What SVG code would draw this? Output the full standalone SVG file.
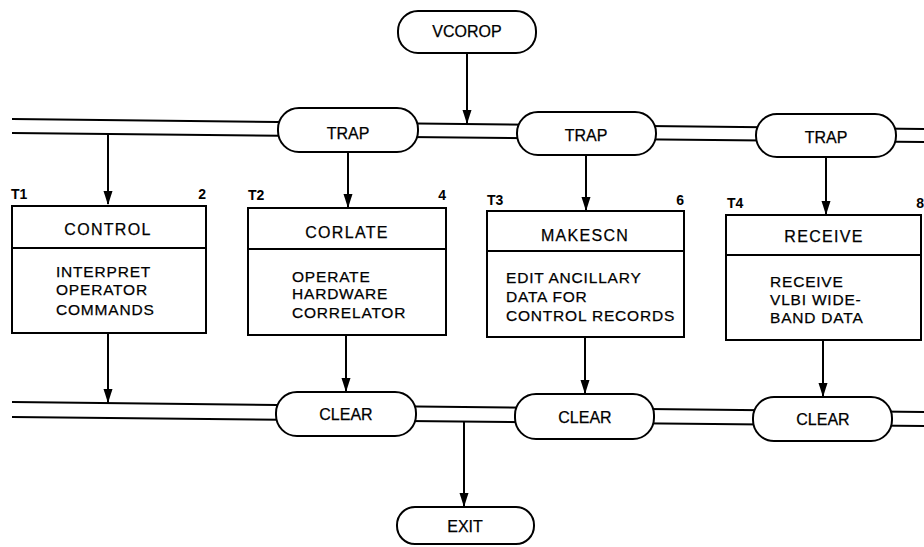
<svg xmlns="http://www.w3.org/2000/svg" width="924" height="547" viewBox="0 0 924 547">
<style>
.s{fill:none;stroke:#000;stroke-width:2}
.p{fill:#fff;stroke:#000;stroke-width:2}
.b{fill:#fff;stroke:#000;stroke-width:2}
.v{stroke:#000;stroke-width:2}
text{font-family:"Liberation Sans",Arial,sans-serif;fill:#000;stroke:#000;stroke-width:0.25}
.t{font-size:16px;text-anchor:middle}
.h{font-size:16px;text-anchor:middle;letter-spacing:1.3px}
.d{font-size:15.5px;letter-spacing:0.8px}
.n{font-size:14px;font-weight:bold;stroke-width:0}
.r{text-anchor:end}
</style>
<defs>
<path id="ah" d="M0,0 l-4.5,-14 h9 z" fill="#000"/>
</defs>
<g id="connectors">
<line class="s" x1="12" y1="119" x2="924" y2="129"/>
<line class="s" x1="12" y1="133" x2="924" y2="142"/>
<line class="s" x1="12" y1="402" x2="924" y2="412"/>
<line class="s" x1="12" y1="417" x2="924" y2="426"/>
<path class="v" d="M467,53 V124"/>
<use href="#ah" x="467" y="124"/>
<path class="v" d="M108,134 V204"/>
<use href="#ah" x="108" y="205"/>
<path class="v" d="M348,152 V208"/>
<use href="#ah" x="348" y="208"/>
<path class="v" d="M586,155 V211"/>
<use href="#ah" x="586" y="211"/>
<path class="v" d="M826,157 V215"/>
<use href="#ah" x="826" y="215"/>
<path class="v" d="M108,333 V403"/>
<use href="#ah" x="108" y="403"/>
<path class="v" d="M346,335 V392"/>
<use href="#ah" x="346" y="392"/>
<path class="v" d="M585,337 V394"/>
<use href="#ah" x="585" y="394"/>
<path class="v" d="M823,340 V397"/>
<use href="#ah" x="823" y="397"/>
<path class="v" d="M464,421 V507"/>
<use href="#ah" x="464" y="507"/>
</g>
<g id="vcorop"><rect class="p" x="398" y="11" width="138" height="42" rx="20"/><text class="t" x="467" y="37">VCOROP</text></g>
<g id="trap1"><rect class="p" x="278" y="108" width="140" height="44" rx="21"/><text class="t" x="348" y="139">TRAP</text></g>
<g id="trap2"><rect class="p" x="517" y="112" width="139" height="43" rx="21"/><text class="t" x="586" y="141">TRAP</text></g>
<g id="trap3"><rect class="p" x="756" y="114" width="140" height="43" rx="21"/><text class="t" x="826" y="143">TRAP</text></g>
<g id="control">
<rect class="b" x="12" y="206" width="194" height="127"/>
<line class="s" x1="12" y1="248" x2="206" y2="248"/>
<text class="n" x="11" y="199">T1</text><text class="n r" x="206" y="199">2</text>
<text class="h" x="108" y="235">CONTROL</text>
<text class="d" x="56" y="277">INTERPRET</text>
<text class="d" x="56" y="295">OPERATOR</text>
<text class="d" x="56" y="315">COMMANDS</text>
</g>
<g id="corlate">
<rect class="b" x="248" y="208" width="198" height="127"/>
<line class="s" x1="248" y1="249" x2="446" y2="249"/>
<text class="n" x="248" y="200">T2</text><text class="n r" x="446" y="200">4</text>
<text class="h" x="347" y="238">CORLATE</text>
<text class="d" x="292" y="282">OPERATE</text>
<text class="d" x="292" y="299">HARDWARE</text>
<text class="d" x="292" y="318">CORRELATOR</text>
</g>
<g id="makescn">
<rect class="b" x="487" y="211" width="197" height="126"/>
<line class="s" x1="487" y1="251" x2="684" y2="251"/>
<text class="n" x="487" y="205">T3</text><text class="n r" x="684" y="205">6</text>
<text class="h" x="585" y="241">MAKESCN</text>
<text class="d" x="506" y="283">EDIT ANCILLARY</text>
<text class="d" x="506" y="302">DATA FOR</text>
<text class="d" x="506" y="321">CONTROL RECORDS</text>
</g>
<g id="receive">
<rect class="b" x="726" y="215" width="195" height="125"/>
<line class="s" x1="726" y1="255" x2="921" y2="255"/>
<text class="n" x="727" y="208">T4</text><text class="n r" x="924" y="208">8</text>
<text class="h" x="824" y="242">RECEIVE</text>
<text class="d" x="770" y="287">RECEIVE</text>
<text class="d" x="770" y="305">VLBI WIDE-</text>
<text class="d" x="770" y="323">BAND DATA</text>
</g>
<g id="clear1"><rect class="p" x="276" y="392" width="140" height="44" rx="21"/><text class="t" x="346" y="420">CLEAR</text></g>
<g id="clear2"><rect class="p" x="515" y="394" width="139" height="45" rx="21"/><text class="t" x="585" y="423">CLEAR</text></g>
<g id="clear3"><rect class="p" x="753" y="397" width="139" height="44" rx="21"/><text class="t" x="823" y="425">CLEAR</text></g>
<g id="exit"><rect class="p" x="397" y="507" width="137" height="37" rx="18"/><text class="t" x="465" y="532">EXIT</text></g>
</svg>
